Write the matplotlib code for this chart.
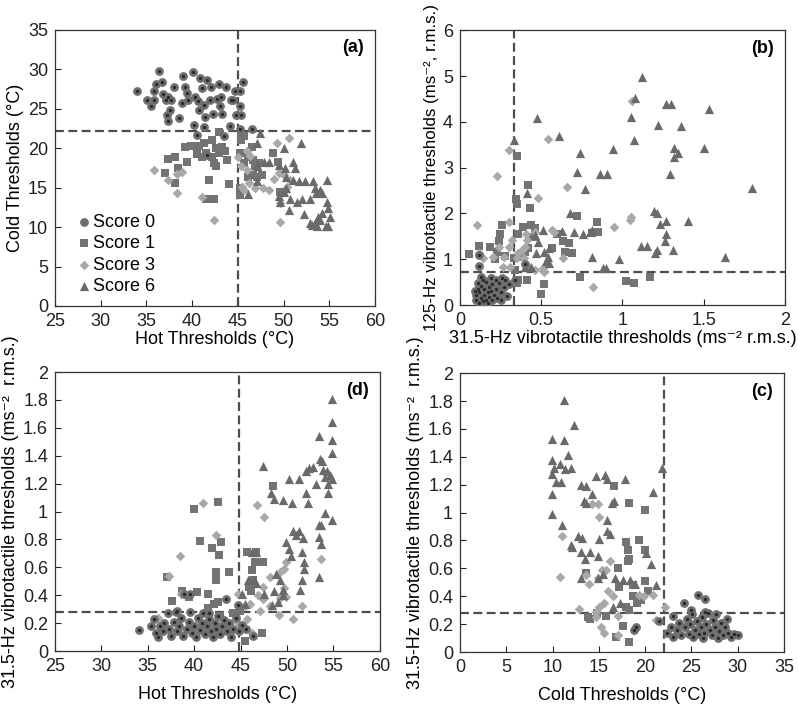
import numpy as np
import matplotlib
matplotlib.use("Agg")
import matplotlib.pyplot as plt

plt.rcParams["font.family"] = ["Liberation Sans", "DejaVu Sans"]
plt.rcParams["font.size"] = 13

# ---- panel (a): hot (x) vs cold (y) thresholds, degC
a_s0 = [(34.0,27.2),(35.1,26.1),(35.5,25.3),(35.8,26.1),(35.8,27.2),(36.1,28.2),(36.4,29.8),(36.7,28.4),
        (36.8,26.9),(37.1,26.1),(37.4,26.5),(37.7,26.1),(37.2,24.2),(37.4,23.4),(37.6,24.9),(38.0,27.8),
        (38.6,23.8),(38.9,25.7),(39.0,29.2),(39.2,27.8),(39.4,27.0),(39.6,26.1),(40.1,29.6),(40.2,23.0),
        (40.3,26.5),(40.5,21.7),(40.7,24.9),(40.9,28.9),(41.1,27.6),(41.3,25.5),(41.3,22.7),(41.4,24.0),
        (41.6,28.7),(41.6,19.1),(42.0,26.1),(42.1,27.8),(42.3,24.4),(42.7,26.3),(42.9,28.2),(43.0,25.3),
        (43.2,26.5),(43.3,24.4),(43.5,21.5),(43.7,27.8),(44.1,22.8),(44.2,26.1),(44.5,26.1),(44.7,27.2),
        (44.8,24.2),(45.2,27.3),(45.2,25.3),(45.4,24.2),(45.6,28.4),(45.2,22.4),(46.5,22.4),(40.6,26.0)]
a_s1 = [(37.4,18.6),(38.1,18.9),(37.0,16.9),(38.1,15.6),(38.5,17.5),(39.4,18.2),(39.2,20.2),(39.9,20.3),
        (40.5,19.3),(40.7,20.3),(41.1,18.9),(41.3,20.6),(41.5,19.4),(41.8,16.0),(42.2,18.9),(42.4,18.1),
        (42.6,17.7),(42.2,21.0),(42.6,20.0),(42.9,19.4),(43.3,20.2),(43.6,19.6),(43.8,18.5),(44.0,15.5),
        (41.5,13.5),(42.4,13.5),(42.9,22.0),(45.3,21.9),(45.3,21.0),(45.7,21.5),(45.2,19.4),(45.7,18.1),
        (46.1,18.9),(46.5,20.2),(46.7,18.5),(46.9,17.7),(47.1,16.4),(47.3,18.1),(47.6,16.6),(45.2,14.1),
        (45.2,14.9),(48.9,19.4),(49.4,18.3),(49.6,14.5),(46.7,16.6),(46.1,16.4)]
a_s3 = [(35.8,17.2),(37.4,16.0),(38.3,16.7),(38.9,17.0),(38.4,14.3),(41.1,13.8),(42.4,10.9),(45.0,18.9),
        (46.0,19.6),(46.3,19.0),(46.0,17.2),(46.2,15.6),(45.5,15.1),(45.7,14.7),(46.9,14.9),(47.7,14.9),
        (48.4,14.7),(49.0,16.1),(49.5,16.8),(50.1,16.6),(50.4,15.1),(49.3,20.7),(50.6,21.3),(49.6,13.0),
        (49.6,10.7),(45.3,17.7),(50.7,16.0)]
a_s6 = [(47.4,21.9),(47.1,20.6),(47.1,17.9),(46.1,14.2),(47.1,15.8),(47.9,18.3),(48.4,18.3),(49.5,17.9),
        (50.1,20.0),(50.2,17.5),(50.3,16.4),(51.0,18.3),(51.2,17.5),(51.9,20.6),(51.0,16.0),(51.7,15.8),
        (52.3,15.8),(50.3,14.9),(50.7,13.5),(50.0,14.5),(49.5,13.9),(49.6,13.2),(50.6,12.2),(51.5,13.2),
        (52.0,13.5),(52.9,13.5),(52.2,11.7),(53.2,15.8),(53.4,14.9),(54.0,14.7),(54.2,14.3),(54.7,16.0),
        (54.7,13.2),(54.9,12.4),(55.1,11.3),(53.1,10.3),(53.7,10.1),(54.0,10.9),(54.2,11.8),(54.6,10.1),
        (54.9,10.1),(53.8,11.3),(53.4,10.5),(52.9,10.5),(53.6,14.3),(47.1,17.7)]

# ---- panel (b): 31.5-Hz (x) vs 125-Hz (y) vibrotactile thresholds
b_s0 = [(0.10,0.12),(0.10,0.22),(0.11,0.35),(0.11,0.48),(0.12,0.05),(0.12,0.28),(0.13,0.15),(0.13,0.42),
        (0.14,0.55),(0.14,0.08),(0.15,0.22),(0.15,0.35),(0.16,0.50),(0.16,0.12),(0.17,0.28),(0.17,0.05),
        (0.18,0.40),(0.18,0.18),(0.19,0.58),(0.19,0.30),(0.20,0.10),(0.20,0.45),(0.21,0.22),(0.22,0.55),
        (0.22,0.35),(0.23,0.15),(0.24,0.48),(0.25,0.28),(0.26,0.60),(0.27,0.40),(0.28,0.55),(0.29,0.20),
        (0.30,0.45),(0.12,1.10),(0.12,0.85),(0.40,0.90),(0.34,0.55),(0.13,0.62),(0.25,0.12),(0.09,0.30)]
b_s1 = [(0.057,1.11),(0.12,1.29),(0.256,1.75),(0.246,1.54),(0.24,1.40),(0.215,1.00),(0.28,1.07),(0.35,3.25),
        (0.345,2.31),(0.35,2.20),(0.42,2.63),(0.43,2.11),(0.36,1.56),(0.385,1.71),(0.435,1.75),(0.45,1.49),
        (0.46,1.69),(0.42,1.24),(0.40,1.15),(0.37,1.05),(0.33,1.02),(0.34,0.76),(0.36,0.55),(0.41,0.55),
        (0.35,0.47),(0.52,0.46),(0.50,0.25),(0.635,1.40),(0.645,1.15),(0.565,1.24),(0.595,1.56),(0.72,1.94),
        (0.69,1.13),(0.67,1.35),(0.74,0.62),(0.81,1.58),(0.845,1.82),(0.85,1.59),(1.02,0.52),(1.07,0.47),
        (1.17,0.62),(0.225,1.15),(0.185,1.27)]
b_s3 = [(0.107,1.75),(0.226,2.81),(0.30,3.38),(0.30,1.82),(0.48,2.34),(0.54,3.62),(0.66,2.57),(0.565,1.64),
        (0.58,1.59),(0.46,1.60),(0.405,1.56),(0.41,1.42),(0.40,1.27),(0.38,1.20),(0.36,1.13),(0.32,1.42),
        (0.30,1.27),(0.27,1.05),(0.24,1.27),(0.205,1.05),(0.14,1.02),(0.12,1.13),(0.35,1.02),(0.395,1.02),
        (0.42,0.84),(0.46,0.76),(0.51,0.80),(0.52,0.73),(0.635,1.02),(0.82,0.39),(0.95,1.70),(1.06,4.46),
        (1.05,1.93),(1.045,1.85),(0.31,0.84),(0.265,0.84)]
b_s6 = [(0.33,3.60),(0.476,4.09),(0.41,2.45),(0.607,3.69),(0.74,3.32),(0.72,2.91),(0.77,2.53),(0.86,2.86),
        (0.905,2.86),(0.94,3.40),(1.07,3.60),(1.05,4.11),(1.08,4.53),(1.12,4.97),(1.216,3.93),(1.27,4.38),
        (1.30,4.39),(1.32,3.42),(1.32,3.24),(1.34,3.31),(1.36,3.91),(1.29,2.87),(1.53,4.28),(1.50,3.44),
        (1.80,2.56),(1.196,2.05),(1.21,2.00),(1.23,1.77),(1.27,1.83),(1.27,1.54),(1.26,1.40),(1.20,1.13),
        (1.21,1.20),(1.31,1.21),(1.405,1.83),(1.63,1.05),(1.115,1.29),(1.15,1.29),(0.98,1.00),(0.88,0.80),
        (0.90,0.81),(0.81,1.04),(0.80,1.60),(0.81,1.64),(0.755,1.56),(0.70,1.59),(0.63,1.62),(0.675,2.00),
        (0.55,1.25),(0.51,1.64),(0.47,1.13),(0.48,1.38),(0.52,1.16),(0.54,1.05),(0.53,0.96),(0.55,0.91),
        (0.46,1.53),(0.40,0.84),(0.44,0.84)]

# ---- panel (d): hot thresholds (x) vs 31.5-Hz thresholds (y)
d_s0 = [(34.1,0.15),(35.4,0.18),(35.7,0.23),(35.9,0.13),(36.1,0.10),(36.3,0.18),(36.6,0.14),(36.8,0.20),
        (37.2,0.27),(37.3,0.16),(37.5,0.11),(37.8,0.21),(38.0,0.28),(38.2,0.14),(38.4,0.18),(38.6,0.24),
        (38.8,0.11),(38.9,0.41),(39.2,0.16),(39.4,0.21),(39.6,0.28),(39.8,0.13),(40.0,0.18),(40.2,0.10),
        (40.4,0.24),(40.6,0.15),(40.8,0.20),(41.0,0.27),(41.2,0.12),(41.4,0.18),(41.6,0.23),(41.8,0.14),
        (42.0,0.10),(42.2,0.20),(42.4,0.16),(42.6,0.25),(42.8,0.12),(43.0,0.18),(43.2,0.22),(43.4,0.37),
        (43.5,0.14),(43.8,0.20),(44.0,0.10),(44.2,0.16),(44.5,0.24),(44.7,0.33),(44.8,0.14),(45.2,0.19),
        (45.6,0.16),(46.3,0.11),(39.5,0.41),(38.2,0.29),(41.6,0.27)]
d_s1 = [(40.0,1.02),(42.6,1.07),(40.6,0.79),(41.9,0.74),(42.9,0.78),(42.7,0.69),(42.4,0.57),(42.4,0.51),
        (43.7,0.57),(37.1,0.53),(38.7,0.43),(39.4,0.39),(40.3,0.42),(41.5,0.41),(42.1,0.34),(42.6,0.35),
        (41.5,0.31),(48.5,1.18),(45.7,0.71),(46.7,0.71),(46.6,0.64),(47.4,0.64),(46.2,0.58),(46.3,0.51),
        (45.9,0.46),(46.1,0.43),(45.5,0.07),(47.3,0.13),(44.9,0.29),(44.2,0.27),(37.6,0.36),(42.8,0.25)]
d_s3 = [(41.0,1.06),(42.3,0.83),(38.5,0.68),(37.3,0.54),(36.1,0.24),(46.8,1.05),(47.5,0.96),(53.7,0.66),
        (49.9,0.64),(49.7,0.59),(49.3,0.57),(48.2,0.53),(47.4,0.46),(46.9,0.40),(47.4,0.37),(48.2,0.32),
        (49.1,0.26),(50.7,0.23),(51.6,0.32),(49.7,0.45),(49.6,0.41),(49.9,0.39),(49.2,0.38),(46.0,0.34),
        (45.5,0.32),(45.7,0.23),(44.7,0.41),(46.2,0.13),(38.8,0.13),(38.6,0.41),(44.7,0.20),(47.1,0.29)]
d_s6 = [(54.9,1.81),(54.8,1.64),(54.9,1.51),(54.9,1.42),(53.4,1.54),(53.6,1.38),(53.8,1.36),(53.9,1.30),
        (54.3,1.29),(54.6,1.26),(54.8,1.23),(54.4,1.20),(54.1,1.25),(52.8,1.32),(52.4,1.31),(52.1,1.29),
        (53.1,1.20),(52.1,1.13),(54.4,1.13),(54.8,0.94),(54.1,0.99),(53.5,0.90),(53.7,0.90),(53.5,0.82),
        (53.7,0.77),(53.4,0.53),(52.3,1.06),(51.3,1.23),(50.2,1.23),(50.5,1.06),(47.4,1.33),(48.3,1.13),
        (48.6,1.09),(49.6,1.08),(50.7,0.86),(51.3,0.86),(51.0,0.83),(51.7,0.81),(49.9,0.78),(50.2,0.73),
        (50.4,0.68),(51.6,0.71),(51.8,0.64),(51.8,0.59),(51.6,0.51),(51.4,0.44),(46.2,0.71),(46.7,0.71),
        (46.4,0.51),(46.7,0.49),(45.8,0.51),(47.5,0.41),(48.6,0.43),(48.8,0.55),(49.3,0.51),(49.6,0.44),
        (48.4,0.33),(49.0,0.35),(49.6,0.40),(45.1,0.41),(45.5,0.34)]

# ---- panel (c): cold thresholds (x) vs 31.5-Hz thresholds (y)
c_s0 = [(22.4,0.14),(22.8,0.18),(23.0,0.11),(23.4,0.16),(23.7,0.21),(23.9,0.12),(24.2,0.35),(24.3,0.18),
        (24.5,0.24),(24.7,0.13),(24.9,0.20),(25.1,0.27),(25.2,0.11),(25.4,0.16),(25.6,0.22),(25.7,0.41),
        (25.8,0.13),(26.0,0.18),(26.2,0.25),(26.3,0.10),(26.4,0.14),(26.5,0.38),(26.6,0.20),(26.8,0.28),
        (27.0,0.16),(27.2,0.12),(27.3,0.23),(27.5,0.18),(27.7,0.27),(27.9,0.10),(28.0,0.15),(28.2,0.21),
        (28.4,0.12),(28.6,0.18),(28.8,0.24),(29.0,0.14),(29.3,0.11),(29.6,0.13),(30.0,0.12),(21.5,0.22),
        (19.0,0.18),(18.8,0.16),(23.0,0.26),(25.0,0.30),(26.5,0.29)]
c_s1 = [(16.6,1.19),(18.3,1.07),(20.0,1.02),(17.9,0.79),(19.3,0.80),(20.0,0.73),(18.1,0.73),(18.3,0.67),
        (18.1,0.65),(17.1,0.60),(17.2,0.47),(18.7,0.48),(20.3,0.44),(19.6,0.37),(18.7,0.40),(19.1,0.35),
        (17.9,0.32),(18.3,0.30),(13.8,0.25),(14.0,0.24),(14.8,0.28),(15.8,0.26),(17.6,0.19),(18.3,0.07),
        (16.9,0.11),(19.4,0.37),(13.6,0.57),(20.0,0.51)]
c_s3 = [(14.3,1.06),(14.9,1.06),(15.0,0.97),(11.0,0.83),(10.8,0.54),(13.6,0.55),(13.9,0.49),(16.2,0.65),
        (15.8,0.59),(15.3,0.59),(14.9,0.53),(16.0,0.44),(16.5,0.40),(15.6,0.35),(15.0,0.32),(14.7,0.29),
        (12.9,0.31),(14.7,0.25),(15.6,0.14),(17.1,0.12),(17.1,0.26),(19.3,0.41),(19.9,0.40),(20.9,0.41),
        (21.2,0.23),(22.1,0.32),(15.2,0.18)]
c_s6 = [(11.2,1.81),(12.3,1.63),(9.9,1.53),(11.2,1.52),(11.7,1.41),(9.9,1.38),(10.8,1.35),(10.2,1.32),
        (11.4,1.31),(12.0,1.32),(9.9,1.28),(10.4,1.22),(10.9,1.22),(9.9,1.13),(9.9,0.99),(11.0,0.91),
        (12.0,0.77),(12.1,0.75),(12.7,0.83),(13.2,0.82),(13.1,1.20),(13.6,1.19),(13.4,1.08),(13.6,1.07),
        (14.7,1.26),(15.7,1.27),(15.9,1.24),(17.8,1.24),(14.3,1.13),(16.4,1.07),(15.9,0.95),(15.9,0.87),
        (16.2,0.85),(15.0,0.81),(13.1,0.72),(14.0,0.72),(14.9,0.69),(13.5,0.67),(13.1,0.53),(14.9,0.53),
        (15.5,0.56),(16.8,0.53),(17.6,0.52),(18.4,0.52),(18.9,0.49),(20.8,1.15),(21.8,1.32),(16.6,1.08),
        (20.6,0.63),(20.1,0.71),(21.2,0.48),(17.3,0.35),(16.5,0.32)]

score_names = ["Score 0", "Score 1", "Score 3", "Score 6"]

DASH = "#4d4d4d"


def draw(ax, groups, vline, hline, xlim, ylim, xticks, yticks, xlabel, ylabel, tag):
    s0, s1, s3, s6 = [np.array(g) for g in groups]
    ax.scatter(s1[:, 0], s1[:, 1], marker="s", s=30, c="#737373", linewidths=0, zorder=3)
    ax.scatter(s3[:, 0], s3[:, 1], marker="D", s=24, c="#a8a8a8", linewidths=0, zorder=3)
    ax.scatter(s6[:, 0], s6[:, 1], marker="^", s=44, c="#6a6a6a", linewidths=0, zorder=3)
    ax.scatter(s0[:, 0], s0[:, 1], marker="o", s=40, c="#6f6f6f", linewidths=0, zorder=4)
    ax.scatter(s0[:, 0], s0[:, 1], marker="o", s=6, c="#2a2a2a", linewidths=0, zorder=5)
    ax.axvline(vline, color=DASH, lw=1.6, ls=(0, (4, 2)), zorder=2)
    ax.axhline(hline, color=DASH, lw=1.6, ls=(0, (4, 2)), zorder=2)
    ax.set_xlim(*xlim); ax.set_ylim(*ylim)
    ax.set_xticks(xticks); ax.set_yticks(yticks)
    ax.set_xticklabels([f"{t:g}" for t in xticks]); ax.set_yticklabels([f"{t:g}" for t in yticks])
    ax.tick_params(direction="in", length=4, width=0.8, labelsize=13, colors="#222222")
    ax.tick_params(axis="x", pad=5)
    ax.tick_params(axis="y", pad=5)
    ax.set_xlabel(xlabel, fontsize=13, labelpad=1)
    ax.set_ylabel(ylabel, fontsize=13, labelpad=3)
    for sp in ax.spines.values():
        sp.set_color("#333333"); sp.set_linewidth(0.9)
    ax.text(0.965, 0.935, tag, transform=ax.transAxes, ha="right", va="center",
            fontsize=13, fontweight="bold")


fig = plt.figure(figsize=(7.98, 7.08), dpi=100)
ax_a = fig.add_axes([0.0689, 0.5678, 0.401, 0.390])
ax_b = fig.add_axes([0.5764, 0.5692, 0.4073, 0.388])
ax_d = fig.add_axes([0.0689, 0.0805, 0.407, 0.394])
ax_c = fig.add_axes([0.5764, 0.0790, 0.406, 0.394])

vib31 = "31.5-Hz vibrotactile thresholds (ms⁻²  r.m.s.)"

draw(ax_a, [a_s0, a_s1, a_s3, a_s6], 45, 22.2, (25, 60), (0, 35),
     [25, 30, 35, 40, 45, 50, 55, 60], [0, 5, 10, 15, 20, 25, 30, 35],
     "Hot Thresholds (°C)", "Cold Thresholds (°C)", "(a)")
draw(ax_b, [b_s0, b_s1, b_s3, b_s6], 0.33, 0.72, (0, 2), (0, 6),
     [0, 0.5, 1, 1.5, 2], [0, 1, 2, 3, 4, 5, 6],
     "31.5-Hz vibrotactile thresholds (ms⁻² r.m.s.)",
     "125-Hz vibrotactile thresholds (ms⁻², r.m.s.)", "(b)")
ax_b.yaxis.label.set_fontsize(12.2)
draw(ax_d, [d_s0, d_s1, d_s3, d_s6], 44.8, 0.28, (25, 60), (0, 2),
     [25, 30, 35, 40, 45, 50, 55, 60], [0, 0.2, 0.4, 0.6, 0.8, 1, 1.2, 1.4, 1.6, 1.8, 2],
     "Hot Thresholds (°C)", vib31, "(d)")
draw(ax_c, [c_s0, c_s1, c_s3, c_s6], 22, 0.28, (0, 35), (0, 2),
     [0, 5, 10, 15, 20, 25, 30, 35], [0, 0.2, 0.4, 0.6, 0.8, 1, 1.2, 1.4, 1.6, 1.8, 2],
     "Cold Thresholds (°C)", vib31, "(c)")
ax_d.xaxis.labelpad = 8
ax_c.xaxis.labelpad = 8

# legend in panel (a)
h0 = ax_a.scatter([], [], marker="o", s=40, c="#6f6f6f", linewidths=0)
h1 = ax_a.scatter([], [], marker="s", s=30, c="#737373", linewidths=0)
h3 = ax_a.scatter([], [], marker="D", s=24, c="#a8a8a8", linewidths=0)
h6 = ax_a.scatter([], [], marker="^", s=44, c="#6a6a6a", linewidths=0)
ax_a.legend([h0, h1, h3, h6], score_names, loc="lower left", frameon=False, fontsize=13,
            handletextpad=0.05, handlelength=0.9, labelspacing=0.25, borderaxespad=0.2,
            bbox_to_anchor=(0.03, 0.0))

fig.savefig("out.png", dpi=100)
